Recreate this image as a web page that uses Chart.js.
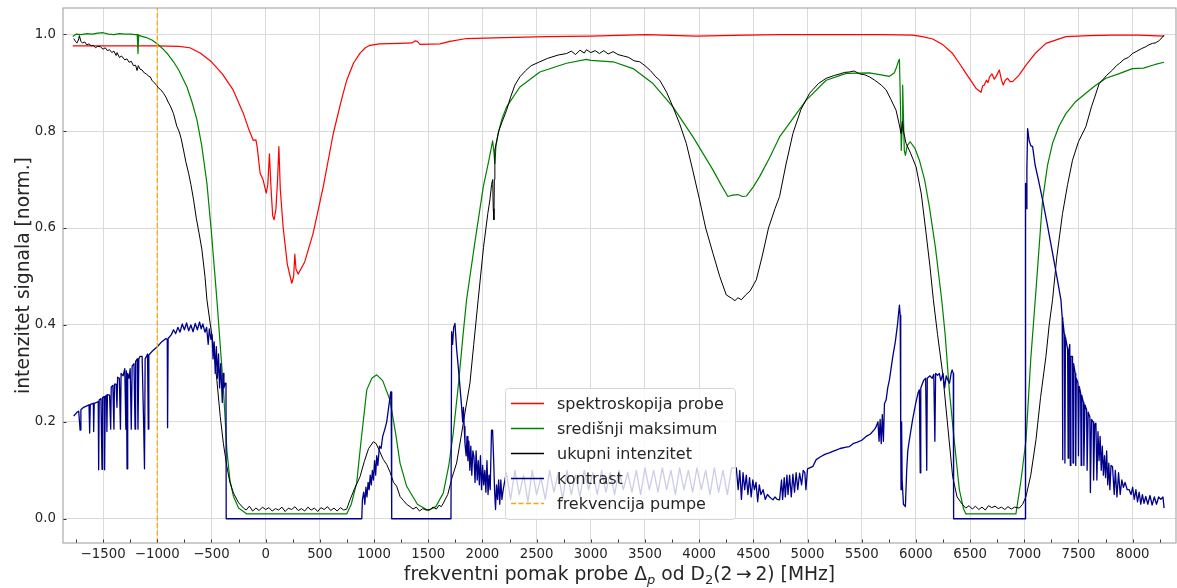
<!DOCTYPE html>
<html>
<head>
<meta charset="utf-8">
<script src="https://cdn.jsdelivr.net/npm/chart.js@4.4.1/dist/chart.umd.min.js"></script>
<style>
  html, body { margin: 0; padding: 0; background: #fff; }
  #chart { display: block; }
</style>
</head>
<body>
<canvas id="chart" width="1177" height="588"></canvas>
<script>
// --- podaci (očitani sa slike) ---
const xMin = -1870, xMax = 8400;
const yMin = -0.05, yMax = 1.054;
const xTickValues = [-1500,-1000,-500,0,500,1000,1500,2000,2500,3000,3500,4000,4500,5000,5500,6000,6500,7000,7500,8000];
const xMinorTicks = [-1750,-1250,-750,-250,250,750,1250,1750,2250,2750,3250,3750,4250,4750,5250,5750,6250,6750,7250,7750,8250];
const yTickValues = [0.0,0.2,0.4,0.6,0.8,1.0];

const seriesLabels = ['spektroskopija probe', 'središnji maksimum', 'ukupni intenzitet', 'kontrast', 'frekvencija pumpe'];
const seriesColors = ['#ff0000', '#008000', '#000000', '#00008b', '#ffa500'];

const probeX = [-1780,-1000,-800,-700,-604,-500,-400,-300,-207,-150,-115,-90,-78,-51,-23,5,20,35,50,65,78,95,110,122,135,161,200,241,258,269,280,300,360,438,531,624,700,748,810,871,920,963,1050,1240,1350,1378,1400,1424,1608,1700,1854,2200,2592,3000,3513,3974,4435,4742,5200,5700,5971,6060,6155,6250,6339,6400,6462,6520,6555,6601,6615,6631,6650,6665,6680,6702,6724,6745,6770,6790,6806,6825,6846,6870,6892,6950,7016,7100,7200,7384,7600,7814,8050,8290];
const probeY = [0.976,0.976,0.975,0.972,0.961,0.943,0.918,0.885,0.837,0.800,0.781,0.782,0.767,0.713,0.699,0.672,0.690,0.753,0.680,0.625,0.617,0.640,0.700,0.768,0.680,0.602,0.525,0.486,0.500,0.546,0.515,0.505,0.530,0.589,0.685,0.795,0.865,0.905,0.940,0.961,0.972,0.977,0.980,0.981,0.982,0.986,0.985,0.979,0.980,0.985,0.991,0.993,0.995,0.996,0.999,0.996,0.998,0.999,0.999,0.999,0.998,0.995,0.990,0.978,0.960,0.940,0.919,0.900,0.888,0.880,0.893,0.895,0.905,0.900,0.912,0.918,0.907,0.915,0.926,0.905,0.895,0.905,0.909,0.902,0.902,0.915,0.936,0.960,0.981,0.995,0.997,0.998,0.998,0.996];

const centralX = [-1780,-1750,-1700,-1650,-1600,-1550,-1500,-1450,-1400,-1350,-1300,-1250,-1200,-1185,-1178,-1172,-1150,-1100,-1050,-1003,-950,-900,-850,-800,-726,-680,-634,-590,-542,-500,-450,-420,-389,-358,-330,-297,-250,-173,748,790,840,880,933,980,1025,1080,1147,1200,1240,1301,1400,1501,1570,1639,1690,1731,1780,1823,1854,1930,2008,2060,2094,2105,2115,2125,2146,2180,2223,2346,2530,2776,2960,3000,3206,3390,3574,3758,3943,4127,4200,4265,4310,4358,4400,4435,4500,4558,4650,4742,4988,5172,5357,5571,5756,5800,5817,5840,5848,5858,5865,5872,5878,5885,5893,5903,5920,5947,5990,6032,6080,6124,6180,6238,6270,6308,6350,6401,6440,6462,6923,6970,7016,7060,7108,7169,7215,7261,7320,7384,7470,7568,7650,7753,7870,7998,8100,8200,8290];
const centralY = [0.995,1.000,0.999,1.001,1.000,1.002,1.003,1.000,0.999,1.001,1.000,1.000,0.999,0.999,0.960,0.998,0.996,0.993,0.988,0.981,0.970,0.958,0.943,0.925,0.891,0.860,0.823,0.770,0.692,0.590,0.452,0.360,0.266,0.142,0.080,0.046,0.022,0.010,0.010,0.030,0.074,0.160,0.266,0.290,0.297,0.285,0.245,0.175,0.115,0.067,0.030,0.017,0.025,0.053,0.110,0.177,0.280,0.383,0.452,0.570,0.685,0.740,0.780,0.760,0.733,0.770,0.795,0.825,0.850,0.891,0.922,0.940,0.948,0.946,0.943,0.929,0.898,0.850,0.788,0.720,0.690,0.665,0.668,0.669,0.665,0.666,0.685,0.706,0.745,0.788,0.864,0.905,0.919,0.920,0.913,0.920,0.929,0.945,0.948,0.850,0.760,0.800,0.895,0.830,0.760,0.750,0.770,0.778,0.765,0.740,0.700,0.644,0.560,0.452,0.380,0.266,0.170,0.060,0.020,0.010,0.010,0.080,0.163,0.330,0.472,0.658,0.730,0.775,0.810,0.836,0.860,0.878,0.893,0.909,0.918,0.929,0.930,0.937,0.942];

const totalX = [-1771,-1755,-1740,-1725,-1719,-1705,-1690,-1670,-1650,-1630,-1610,-1590,-1570,-1550,-1525,-1500,-1480,-1460,-1440,-1420,-1400,-1380,-1371,-1350,-1330,-1300,-1280,-1260,-1240,-1220,-1200,-1187,-1175,-1160,-1140,-1120,-1100,-1080,-1065,-1050,-1030,-1010,-990,-970,-942,-920,-900,-880,-850,-820,-800,-780,-758,-735,-710,-690,-665,-640,-615,-588,-560,-542,-510,-481,-450,-419,-390,-358,-330,-297,-250,-205,-180,-150,-120,-90,-60,-30,0,30,60,90,120,150,180,210,240,270,300,330,360,390,420,450,480,510,540,570,600,630,660,690,720,748,780,820,871,910,950,994,1020,1050,1086,1117,1150,1180,1209,1240,1270,1300,1332,1360,1390,1420,1450,1480,1516,1545,1575,1600,1620,1639,1680,1720,1762,1800,1840,1885,1920,1961,2010,2050,2069,2085,2095,2100,2106,2110,2115,2150,2180,2223,2260,2300,2346,2400,2450,2530,2600,2700,2776,2820,2860,2900,2940,2960,3000,3040,3080,3120,3160,3206,3250,3300,3350,3400,3452,3500,3550,3600,3636,3700,3758,3820,3881,3940,4004,4060,4127,4190,4250,4300,4330,4358,4390,4430,4470,4527,4580,4640,4700,4742,4800,4865,4940,5019,5100,5172,5250,5300,5340,5387,5430,5480,5530,5571,5620,5680,5725,5770,5817,5845,5863,5875,5885,5909,5950,6002,6050,6094,6130,6161,6200,6247,6290,6339,6380,6431,6460,6490,6520,6550,6580,6610,6640,6670,6700,6730,6760,6790,6820,6850,6880,6910,6954,6985,7016,7060,7108,7150,7200,7230,7261,7300,7353,7400,7445,7500,7568,7620,7650,7691,7720,7760,7814,7850,7880,7920,7960,7998,8040,8080,8120,8150,8183,8210,8240,8260,8275,8290];
const totalY = [0.991,0.985,0.982,0.990,0.997,0.985,0.982,0.984,0.978,0.980,0.976,0.977,0.972,0.975,0.974,0.969,0.972,0.966,0.968,0.962,0.965,0.956,0.962,0.952,0.955,0.947,0.949,0.942,0.944,0.935,0.936,0.925,0.935,0.928,0.926,0.920,0.918,0.913,0.912,0.905,0.900,0.896,0.889,0.886,0.878,0.870,0.860,0.852,0.836,0.810,0.800,0.785,0.761,0.735,0.712,0.690,0.658,0.620,0.590,0.555,0.500,0.452,0.400,0.355,0.285,0.211,0.155,0.108,0.075,0.053,0.033,0.022,0.018,0.026,0.016,0.022,0.017,0.024,0.019,0.023,0.016,0.021,0.018,0.024,0.015,0.022,0.019,0.025,0.017,0.021,0.016,0.024,0.018,0.022,0.015,0.023,0.019,0.025,0.017,0.022,0.016,0.023,0.018,0.020,0.040,0.062,0.087,0.118,0.145,0.159,0.155,0.140,0.122,0.112,0.095,0.075,0.067,0.046,0.038,0.030,0.025,0.020,0.024,0.016,0.021,0.018,0.019,0.024,0.020,0.028,0.025,0.032,0.050,0.085,0.115,0.165,0.220,0.280,0.360,0.452,0.560,0.630,0.658,0.690,0.700,0.640,0.617,0.700,0.761,0.800,0.818,0.843,0.870,0.895,0.912,0.925,0.935,0.943,0.950,0.957,0.960,0.965,0.958,0.967,0.961,0.968,0.962,0.966,0.960,0.966,0.959,0.964,0.958,0.955,0.952,0.945,0.943,0.935,0.925,0.912,0.905,0.880,0.850,0.815,0.775,0.720,0.658,0.600,0.548,0.500,0.462,0.455,0.450,0.456,0.452,0.462,0.470,0.493,0.540,0.600,0.640,0.665,0.730,0.795,0.845,0.878,0.898,0.909,0.915,0.918,0.921,0.922,0.924,0.918,0.916,0.912,0.905,0.895,0.885,0.865,0.843,0.815,0.795,0.820,0.800,0.775,0.755,0.726,0.670,0.589,0.520,0.452,0.380,0.300,0.200,0.087,0.045,0.029,0.022,0.027,0.020,0.026,0.019,0.024,0.018,0.027,0.023,0.026,0.021,0.024,0.019,0.025,0.020,0.024,0.022,0.030,0.046,0.090,0.163,0.250,0.335,0.400,0.452,0.540,0.630,0.690,0.740,0.778,0.809,0.850,0.870,0.898,0.905,0.915,0.926,0.935,0.940,0.948,0.952,0.960,0.965,0.970,0.974,0.978,0.981,0.982,0.986,0.990,0.994,0.998];

const contrastX = [-1771,-1740,-1725,-1712,-1705,-1680,-1660,-1630,-1624,-1618,-1590,-1587,-1582,-1560,-1545,-1541,-1536,-1520,-1510,-1505,-1490,-1486,-1480,-1468,-1465,-1460,-1440,-1430,-1425,-1410,-1400,-1395,-1380,-1372,-1366,-1350,-1340,-1334,-1315,-1300,-1290,-1285,-1279,-1273,-1260,-1250,-1240,-1232,-1215,-1205,-1200,-1185,-1178,-1170,-1160,-1140,-1125,-1118,-1112,-1100,-1090,-1083,-1078,-1050,-1000,-960,-920,-908,-905,-900,-870,-850,-830,-810,-790,-770,-750,-730,-710,-690,-670,-650,-630,-610,-595,-580,-560,-545,-530,-520,-505,-495,-485,-475,-465,-455,-445,-435,-425,-415,-400,-392,-385,-375,-366,-364,887,893,905,915,925,935,945,955,965,975,985,995,1005,1015,1025,1035,1050,1065,1080,1100,1117,1135,1154,1158,1163,1710,1716,1725,1735,1747,1762,1777,1790,1808,1818,1825,1832,1839,1850,1858,1866,1875,1884,1893,1902,1912,1922,1932,1942,1952,1962,1972,1982,1992,2002,2012,2022,2032,2042,2052,2062,2072,2084,2094,2104,2112,2121,2130,2140,2150,2160,2170,2180,2192,2220,2260,2300,2340,2380,2420,2460,2500,2540,2580,2620,2660,2700,2740,2780,2820,2860,2900,2940,2980,3020,3060,3100,3140,3180,3220,3260,3300,3340,3380,3420,3460,3500,3540,3580,3620,3660,3700,3740,3780,3820,3860,3900,3940,3980,4020,4060,4100,4140,4180,4220,4260,4300,4343,4360,4375,4390,4405,4420,4435,4450,4465,4480,4495,4510,4525,4540,4555,4570,4590,4610,4630,4650,4681,4700,4720,4742,4760,4770,4785,4795,4810,4820,4835,4850,4865,4880,4895,4910,4927,4945,4960,4975,4985,5000,5020,5049,5080,5120,5160,5200,5233,5270,5300,5357,5387,5420,5460,5500,5541,5580,5620,5633,5650,5660,5670,5680,5690,5700,5710,5725,5740,5756,5787,5810,5830,5848,5855,5860,5863,5868,5873,5885,5903,5915,5925,5940,5970,6000,6020,6032,6040,6045,6070,6090,6100,6105,6130,6150,6165,6175,6182,6200,6216,6230,6250,6265,6280,6293,6310,6325,6334,6345,6348,7009,7012,7018,7024,7031,7045,7060,7077,7100,7130,7169,7210,7261,7300,7338,7350,7353,7357,7370,7375,7380,7400,7405,7410,7420,7425,7430,7445,7450,7455,7470,7475,7480,7495,7500,7507,7520,7525,7530,7545,7550,7560,7575,7580,7590,7605,7610,7620,7635,7640,7650,7661,7670,7680,7690,7700,7710,7720,7730,7740,7750,7760,7770,7780,7790,7800,7814,7830,7840,7855,7870,7885,7900,7915,7930,7950,7968,7985,8000,8015,8030,8045,8060,8075,8090,8105,8121,8140,8160,8180,8200,8220,8240,8260,8280,8290];
const contrastY = [0.212,0.220,0.222,0.183,0.225,0.230,0.232,0.235,0.177,0.236,0.238,0.180,0.238,0.240,0.242,0.101,0.245,0.248,0.102,0.250,0.252,0.101,0.253,0.255,0.180,0.256,0.255,0.185,0.272,0.275,0.185,0.278,0.278,0.230,0.292,0.290,0.185,0.300,0.295,0.310,0.185,0.305,0.103,0.300,0.290,0.310,0.185,0.315,0.320,0.185,0.325,0.330,0.185,0.330,0.335,0.335,0.185,0.103,0.330,0.335,0.340,0.185,0.338,0.345,0.355,0.365,0.372,0.370,0.188,0.372,0.380,0.390,0.382,0.395,0.385,0.402,0.390,0.404,0.388,0.400,0.386,0.403,0.390,0.406,0.392,0.402,0.385,0.395,0.360,0.392,0.370,0.380,0.330,0.365,0.300,0.355,0.290,0.340,0.270,0.320,0.240,0.300,0.270,0.280,0.275,0.000,0.000,0.040,0.055,0.030,0.065,0.045,0.075,0.060,0.090,0.070,0.100,0.080,0.120,0.090,0.130,0.110,0.150,0.145,0.170,0.185,0.200,0.230,0.262,0.262,0.000,0.000,0.386,0.360,0.395,0.403,0.350,0.314,0.280,0.232,0.200,0.230,0.190,0.156,0.130,0.170,0.120,0.160,0.100,0.150,0.090,0.140,0.128,0.075,0.140,0.080,0.120,0.070,0.130,0.060,0.110,0.070,0.100,0.055,0.120,0.050,0.090,0.060,0.183,0.183,0.120,0.060,0.019,0.070,0.040,0.080,0.030,0.080,0.040,0.060,0.095,0.040,0.100,0.050,0.090,0.035,0.100,0.050,0.085,0.040,0.100,0.055,0.095,0.040,0.100,0.050,0.090,0.045,0.100,0.060,0.095,0.050,0.100,0.055,0.095,0.050,0.100,0.060,0.095,0.055,0.100,0.050,0.105,0.060,0.100,0.055,0.105,0.060,0.100,0.050,0.105,0.060,0.100,0.055,0.105,0.060,0.100,0.050,0.105,0.055,0.100,0.050,0.105,0.105,0.060,0.100,0.040,0.095,0.060,0.090,0.050,0.085,0.045,0.080,0.060,0.075,0.035,0.070,0.050,0.060,0.040,0.050,0.045,0.039,0.045,0.040,0.039,0.080,0.040,0.085,0.045,0.090,0.050,0.090,0.045,0.092,0.055,0.095,0.060,0.094,0.070,0.100,0.095,0.060,0.103,0.105,0.108,0.122,0.128,0.133,0.136,0.139,0.142,0.145,0.148,0.149,0.155,0.158,0.162,0.170,0.175,0.185,0.190,0.200,0.160,0.205,0.155,0.215,0.160,0.238,0.245,0.270,0.287,0.335,0.365,0.400,0.441,0.420,0.180,0.060,0.200,0.080,0.030,0.025,0.100,0.140,0.163,0.205,0.240,0.260,0.266,0.095,0.270,0.285,0.290,0.100,0.290,0.295,0.290,0.298,0.160,0.300,0.296,0.300,0.285,0.300,0.270,0.295,0.287,0.280,0.300,0.307,0.300,0.000,0.000,0.692,0.640,0.720,0.805,0.780,0.770,0.768,0.730,0.700,0.658,0.610,0.548,0.500,0.452,0.415,0.122,0.410,0.380,0.115,0.375,0.350,0.125,0.345,0.360,0.110,0.335,0.335,0.115,0.320,0.300,0.110,0.290,0.280,0.130,0.273,0.260,0.110,0.255,0.240,0.110,0.235,0.225,0.100,0.220,0.210,0.054,0.205,0.200,0.080,0.195,0.197,0.080,0.180,0.120,0.170,0.100,0.150,0.090,0.130,0.085,0.140,0.070,0.115,0.060,0.110,0.108,0.050,0.100,0.045,0.095,0.050,0.080,0.065,0.075,0.060,0.060,0.050,0.065,0.040,0.060,0.035,0.055,0.030,0.050,0.032,0.046,0.030,0.048,0.028,0.045,0.030,0.045,0.040,0.045,0.022];

const pumpX = -1000;

// --- pomoćne funkcije ---
function toPoints(xs, ys) {
  return xs.map((x, i) => ({ x: x, y: ys[i] }));
}
function fmtTick(v, digits) {
  return v.toFixed(digits).replace('-', '\u2212');
}

const FONT = 'DejaVu Sans';
Chart.defaults.font.family = FONT;
Chart.defaults.color = '#262626';

// --- legenda, okvir, crtice i naslovi osi ---
const decorPlugin = {
  id: 'decor',
  afterDatasetsDraw(chart) {
    const ctx = chart.ctx;
    const bx = 505, by = 388, bw = 230, bh = 131;
    ctx.save();
    ctx.beginPath();
    ctx.roundRect(bx + 0.5, by + 0.5, bw, bh, 3);
    ctx.fillStyle = 'rgba(255,255,255,0.8)';
    ctx.fill();
    ctx.strokeStyle = '#d6d6d6';
    ctx.lineWidth = 1;
    ctx.stroke();
    ctx.font = '16px "' + FONT + '"';
    ctx.textBaseline = 'middle';
    seriesLabels.forEach((label, i) => {
      const y = 403.5 + i * 25;
      ctx.beginPath();
      ctx.setLineDash(i === 4 ? [5, 2.5] : []);
      ctx.strokeStyle = seriesColors[i];
      ctx.lineWidth = i === 3 ? 1.5 : 1.3;
      ctx.moveTo(511, y);
      ctx.lineTo(544, y);
      ctx.stroke();
      ctx.setLineDash([]);
      ctx.fillStyle = '#262626';
      ctx.fillText(label, 557, y + 1);
    });
    ctx.restore();
  },
  afterDraw(chart) {
    const ctx = chart.ctx;
    const a = chart.chartArea;
    const xs = chart.scales.x, ys = chart.scales.y;
    ctx.save();
    // crtice prema unutra
    ctx.strokeStyle = '#333';
    ctx.lineWidth = 1;
    ctx.beginPath();
    xTickValues.concat(xMinorTicks).forEach(v => {
      const px = Math.round(xs.getPixelForValue(v)) + 0.5;
      ctx.moveTo(px, a.bottom);
      ctx.lineTo(px, a.bottom - 3.5);
    });
    yTickValues.forEach(v => {
      const py = Math.round(ys.getPixelForValue(v)) + 0.5;
      ctx.moveTo(a.left, py);
      ctx.lineTo(a.left + 3.5, py);
    });
    ctx.stroke();
    // okvir
    ctx.strokeStyle = '#ababab';
    ctx.lineWidth = 1.2;
    ctx.strokeRect(a.left, a.top, a.right - a.left, a.bottom - a.top);

    // naslov osi y
    ctx.fillStyle = '#262626';
    ctx.font = '18.7px "' + FONT + '"';
    ctx.translate(28.5, (a.top + a.bottom) / 2);
    ctx.rotate(-Math.PI / 2);
    ctx.textAlign = 'center';
    ctx.textBaseline = 'alphabetic';
    ctx.fillText('intenzitet signala [norm.]', 0, 0);
    ctx.setTransform(1, 0, 0, 1, 0, 0);

    // naslov osi x s indeksima
    const big = '18.7px "' + FONT + '"';
    const small = '13px "' + FONT + '"';
    const smallIt = 'italic 13px "' + FONT + '"';
    const parts = [
      { t: 'frekventni pomak probe \u0394', f: big, dy: 0 },
      { t: 'p', f: smallIt, dy: 4 },
      { t: ' od D', f: big, dy: 0 },
      { t: '2', f: small, dy: 4 },
      { t: '(2\u2009\u2192\u20092) [MHz]', f: big, dy: 0 }
    ];
    let total = 0;
    parts.forEach(p => { ctx.font = p.f; p.w = ctx.measureText(p.t).width; total += p.w; });
    let x = (a.left + a.right) / 2 - total / 2;
    const base = 580;
    ctx.textAlign = 'left';
    parts.forEach(p => {
      ctx.font = p.f;
      ctx.fillText(p.t, x, base + p.dy);
      x += p.w;
    });
    ctx.restore();
  }
};

const chart = new Chart(document.getElementById('chart'), {
  type: 'line',
  data: {
    datasets: [
      { label: seriesLabels[0], data: toPoints(probeX, probeY), borderColor: seriesColors[0], borderWidth: 1.2, order: 5 },
      { label: seriesLabels[1], data: toPoints(centralX, centralY), borderColor: seriesColors[1], borderWidth: 1.2, order: 4 },
      { label: seriesLabels[2], data: toPoints(totalX, totalY), borderColor: seriesColors[2], borderWidth: 1.0, order: 3 },
      { label: seriesLabels[3], data: toPoints(contrastX, contrastY), borderColor: seriesColors[3], borderWidth: 1.3, order: 2 },
      { label: seriesLabels[4], data: [{ x: pumpX, y: yMin }, { x: pumpX, y: yMax }], borderColor: seriesColors[4], borderWidth: 1.3, borderDash: [5, 2.5], order: 1 }
    ]
  },
  options: {
    responsive: false,
    animation: false,
    devicePixelRatio: 1,
    layout: { padding: { top: 8, right: 1, left: 0, bottom: 0 } },
    elements: {
      point: { radius: 0 },
      line: { tension: 0, fill: false, borderCapStyle: 'butt', borderJoinStyle: 'round' }
    },
    plugins: {
      legend: { display: false },
      tooltip: { enabled: false }
    },
    scales: {
      x: {
        type: 'linear',
        min: xMin,
        max: xMax,
        afterBuildTicks(s) { s.ticks = xTickValues.map(v => ({ value: v })); },
        afterFit(s) { s.height = 45; s.paddingLeft = 0; s.paddingRight = 0; },
        ticks: {
          maxRotation: 0,
          autoSkip: false,
          padding: 4,
          font: { size: 13.3 },
          color: '#262626',
          callback: v => fmtTick(v, 0)
        },
        grid: { color: '#dadada', lineWidth: 1, drawTicks: false },
        border: { display: false }
      },
      y: {
        type: 'linear',
        min: yMin,
        max: yMax,
        afterBuildTicks(s) { s.ticks = yTickValues.map(v => ({ value: v })); },
        afterFit(s) { s.width = 63; s.paddingTop = 0; s.paddingBottom = 0; },
        ticks: {
          padding: 7,
          autoSkip: false,
          font: { size: 13.3 },
          color: '#262626',
          callback: v => fmtTick(v, 1)
        },
        grid: { color: '#dadada', lineWidth: 1, drawTicks: false },
        border: { display: false }
      }
    }
  },
  plugins: [decorPlugin]
});
</script>
</body>
</html>
